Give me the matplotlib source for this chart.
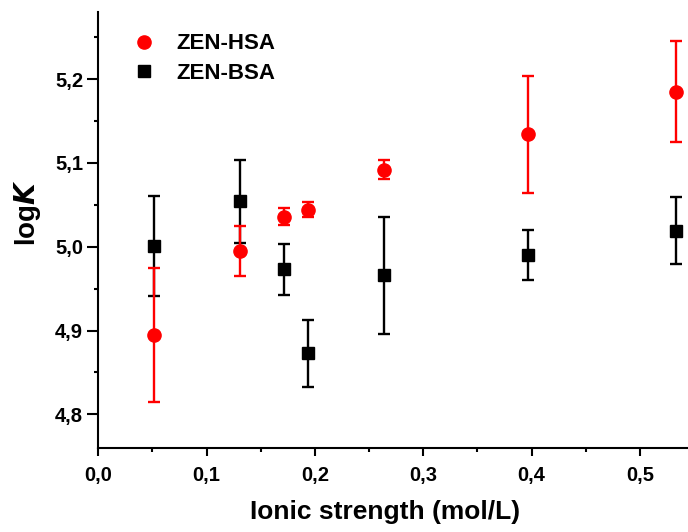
import matplotlib
matplotlib.use("Agg")
import matplotlib.pyplot as plt
from matplotlib.ticker import MultipleLocator, FuncFormatter

plt.rcParams['font.family'] = ['Liberation Sans', 'DejaVu Sans']
plt.rcParams['font.weight'] = 'bold'

# ionic strength (mol/L)
x_hsa = [0.051, 0.131, 0.1715, 0.194, 0.264, 0.3965, 0.533]
logk_hsa = [4.895, 4.995, 5.036, 5.044, 5.092, 5.134, 5.185]
err_hsa = [0.080, 0.030, 0.010, 0.009, 0.011, 0.070, 0.060]

x_bsa = [0.051, 0.131, 0.1715, 0.194, 0.264, 0.3965, 0.533]
logk_bsa = [5.001, 5.054, 4.973, 4.873, 4.966, 4.990, 5.019]
err_bsa = [0.060, 0.050, 0.030, 0.040, 0.070, 0.030, 0.040]

fig = plt.figure(figsize=(6.88, 5.32), dpi=100)
ax = fig.add_axes([0.1429, 0.158, 0.866, 0.8195])

ax.errorbar(x_hsa, logk_hsa, yerr=err_hsa, fmt='o', color='#ff0000', ms=9.5,
            elinewidth=1.7, capsize=4.5, capthick=1.7, label='ZEN-HSA', zorder=3)
ax.errorbar(x_bsa, logk_bsa, yerr=err_bsa, fmt='s', color='black', ms=8.5,
            elinewidth=1.7, capsize=4.5, capthick=1.7, label='ZEN-BSA', zorder=2)

ax.set_xlim(0, 0.55)
ax.set_ylim(4.76, 5.28)

ax.xaxis.set_major_locator(MultipleLocator(0.1))
ax.xaxis.set_minor_locator(MultipleLocator(0.05))
ax.yaxis.set_major_locator(MultipleLocator(0.1))
ax.yaxis.set_minor_locator(MultipleLocator(0.05))
comma = FuncFormatter(lambda v, p: f"{v:.1f}".replace('.', ','))
ax.xaxis.set_major_formatter(comma)
ax.yaxis.set_major_formatter(comma)

ax.tick_params(which='major', direction='out', width=1.5, labelsize=14.5)
ax.tick_params(axis='x', which='major', length=6, pad=7)
ax.tick_params(axis='y', which='major', length=8, pad=3)
ax.tick_params(which='minor', direction='out', length=3, width=1.5)
for s in ['top', 'right']:
    ax.spines[s].set_visible(False)
for s in ['left', 'bottom']:
    ax.spines[s].set_linewidth(1.5)

ax.set_xlabel('Ionic strength (mol/L)', fontsize=19, fontweight='bold')
ax.xaxis.set_label_coords(0.481, -0.119)
ax.set_ylabel(r'log$\bfit{K}$', fontsize=20, fontweight='bold')
ax.yaxis.set_label_coords(-0.093, 0.54)

handles, labels = ax.get_legend_handles_labels()
handles = [h[0] for h in handles]
ax.legend(handles, labels, loc='upper left', bbox_to_anchor=(0.025, 0.997), frameon=False,
          fontsize=16, handletextpad=0.95, labelspacing=0.39, handlelength=1.0)

fig.savefig('out.png', dpi=100)
